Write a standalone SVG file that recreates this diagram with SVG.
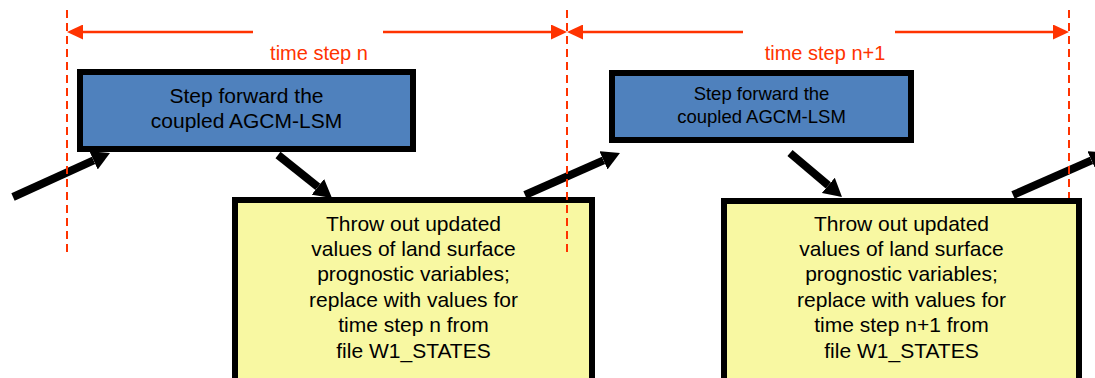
<svg xmlns="http://www.w3.org/2000/svg" width="1095" height="378" viewBox="0 0 1095 378">
  <style>
    .box { stroke: #000; stroke-width: 6; }
    .blue { fill: #4F81BD; }
    .yellow { fill: #F8F8A2; }
    .txt { font-family: "Liberation Sans", Arial, sans-serif; fill: #000; text-anchor: middle; }
    .lbl { font-family: "Liberation Sans", Arial, sans-serif; fill: #FF3300; text-anchor: middle; font-size: 20px; }
    .dash { stroke: #FF3300; stroke-width: 2; stroke-dasharray: 8 5; fill: none; }
    .dim { stroke: #FF3300; stroke-width: 2.5; fill: none; }
    .conn { stroke: #000; stroke-width: 8; fill: none; stroke-linecap: butt; }
  </style>
  <defs>
    <marker id="big" viewBox="0 0 18 20" refX="0" refY="10" markerWidth="18" markerHeight="20" markerUnits="userSpaceOnUse" orient="auto">
      <path d="M0,0 L18,10 L0,20 z" fill="#000"/>
    </marker>
    <marker id="red" viewBox="0 0 16 15" refX="0" refY="7.5" markerWidth="16" markerHeight="15" markerUnits="userSpaceOnUse" orient="auto">
      <path d="M0,0 L16,7.5 L0,15 z" fill="#FF3300"/>
    </marker>
  </defs>

  <g id="timeline">
    <line class="dim" x1="253" y1="32" x2="83" y2="32" marker-end="url(#red)"/>
    <line class="dim" x1="383" y1="32" x2="551" y2="32" marker-end="url(#red)"/>
    <line class="dim" x1="743" y1="32" x2="583" y2="32" marker-end="url(#red)"/>
    <line class="dim" x1="895" y1="32" x2="1053" y2="32" marker-end="url(#red)"/>
    <text class="lbl" x="319" y="60">time step n</text>
    <text class="lbl" x="825" y="60">time step n+1</text>
  </g>

  <g id="node-step-n">
    <rect class="box blue" x="80" y="72" width="333" height="77"/>
    <text class="txt" font-size="21" x="246.5" y="103">Step forward the</text>
    <text class="txt" font-size="21" x="246.5" y="128">coupled AGCM-LSM</text>
  </g>

  <g id="node-step-n1">
    <rect class="box blue" x="612" y="73" width="299" height="67"/>
    <text class="txt" font-size="18.5" x="761.5" y="100">Step forward the</text>
    <text class="txt" font-size="18.5" x="761.5" y="123">coupled AGCM-LSM</text>
  </g>

  <g id="node-replace-n">
    <rect class="box yellow" x="235" y="200" width="357" height="190"/>
    <text class="txt" font-size="21" x="413.5" y="231">Throw out updated</text>
    <text class="txt" font-size="21" x="413.5" y="256">values of land surface</text>
    <text class="txt" font-size="21" x="413.5" y="281">prognostic variables;</text>
    <text class="txt" font-size="21" x="413.5" y="307">replace with values for</text>
    <text class="txt" font-size="21" x="413.5" y="332">time step n from</text>
    <text class="txt" font-size="21" x="413.5" y="358">file W1_STATES</text>
  </g>

  <g id="node-replace-n1">
    <rect class="box yellow" x="724" y="201" width="355" height="190"/>
    <text class="txt" font-size="21" x="901.5" y="231">Throw out updated</text>
    <text class="txt" font-size="21" x="901.5" y="256">values of land surface</text>
    <text class="txt" font-size="21" x="901.5" y="281">prognostic variables;</text>
    <text class="txt" font-size="21" x="901.5" y="307">replace with values for</text>
    <text class="txt" font-size="21" x="901.5" y="332">time step n+1 from</text>
    <text class="txt" font-size="21" x="901.5" y="358">file W1_STATES</text>
  </g>

  <g id="connectors">
    <line class="conn" x1="13" y1="197" x2="93.6" y2="160.4" marker-end="url(#big)"/>
    <line class="conn" x1="278" y1="155" x2="317.9" y2="186.8" marker-end="url(#big)"/>
    <line class="conn" x1="525" y1="195" x2="603.5" y2="160.3" marker-end="url(#big)"/>
    <line class="conn" x1="790" y1="153" x2="828.3" y2="185.4" marker-end="url(#big)"/>
    <line class="conn" x1="1013" y1="195" x2="1091.5" y2="160.3" marker-end="url(#big)"/>
  </g>

  <g id="step-boundaries">
    <line class="dash" x1="67" y1="10" x2="67" y2="255"/>
    <line class="dash" x1="567" y1="10" x2="567" y2="255"/>
    <line class="dash" x1="1069" y1="10" x2="1069" y2="198"/>
  </g>
</svg>
